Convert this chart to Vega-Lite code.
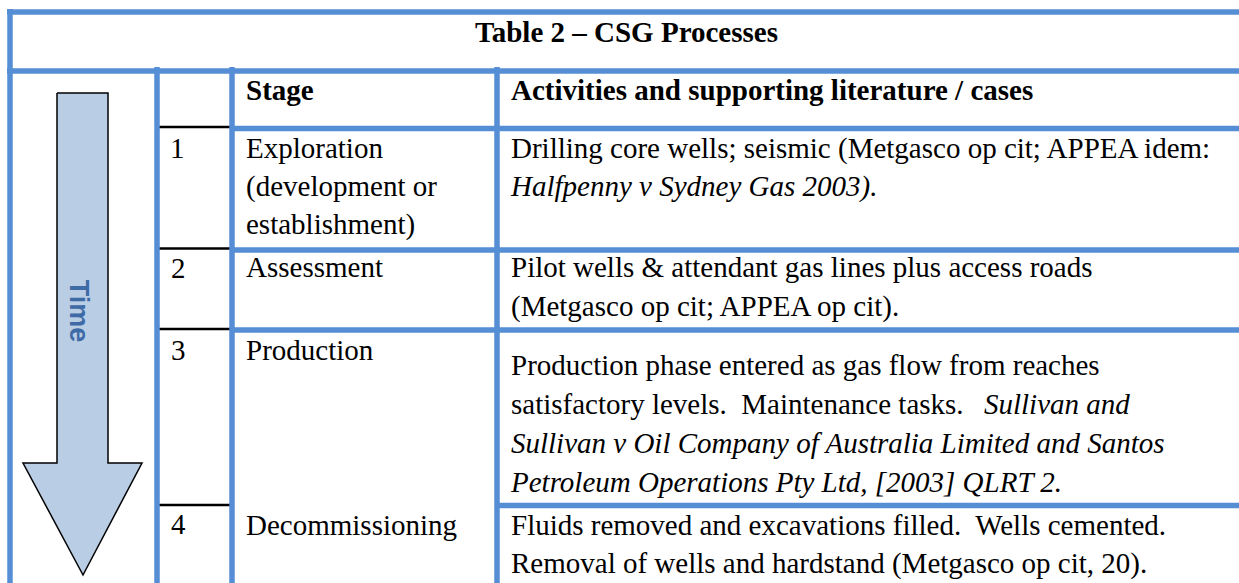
{
  "$schema": "https://vega.github.io/schema/vega-lite/v6.json",
  "width": 1239,
  "height": 583,
  "autosize": {"type": "none"},
  "padding": 0,
  "background": "white",
  "config": {"view": {"stroke": null}},
  "datasets": {
    "lines": [
      {"x": 7, "x2": 1239, "y": 12, "y2": 12, "kind": "blue"},
      {"x": 7, "x2": 1239, "y": 71, "y2": 71, "kind": "blue"},
      {"x": 232, "x2": 1239, "y": 128.5, "y2": 128.5, "kind": "blue"},
      {"x": 232, "x2": 1239, "y": 250, "y2": 250, "kind": "blue"},
      {"x": 232, "x2": 1239, "y": 330, "y2": 330, "kind": "blue"},
      {"x": 497, "x2": 1239, "y": 505.5, "y2": 505.5, "kind": "blue"},
      {"x": 10, "x2": 10, "y": 9, "y2": 583, "kind": "blue"},
      {"x": 157, "x2": 157, "y": 67, "y2": 583, "kind": "blue"},
      {"x": 232, "x2": 232, "y": 67, "y2": 583, "kind": "blue"},
      {"x": 497, "x2": 497, "y": 67, "y2": 583, "kind": "blue"},
      {"x": 159, "x2": 230, "y": 127, "y2": 127, "kind": "black"},
      {"x": 159, "x2": 230, "y": 248.5, "y2": 248.5, "kind": "black"},
      {"x": 159, "x2": 230, "y": 329, "y2": 329, "kind": "black"},
      {"x": 159, "x2": 230, "y": 505, "y2": 505, "kind": "black"}
    ],
    "arrow": [
      {"i": 0, "x": 57, "y": 93},
      {"i": 1, "x": 108, "y": 93},
      {"i": 2, "x": 108, "y": 463},
      {"i": 3, "x": 142, "y": 463},
      {"i": 4, "x": 83, "y": 575},
      {"i": 5, "x": 23, "y": 463},
      {"i": 6, "x": 57, "y": 463},
      {"i": 7, "x": 57, "y": 93}
    ],
    "texts": [
      {"x": 626.5, "y": 42, "text": "Table 2 – CSG Processes", "role": "title"},
      {"x": 246, "y": 100, "text": "Stage", "role": "header"},
      {"x": 511, "y": 100, "text": "Activities and supporting literature / cases", "role": "header"},
      {"x": 170, "y": 158, "text": "1", "role": "cell"},
      {"x": 171, "y": 278, "text": "2", "role": "cell"},
      {"x": 171, "y": 360, "text": "3", "role": "cell"},
      {"x": 171, "y": 534, "text": "4", "role": "cell"},
      {"x": 246, "y": 158, "text": "Exploration", "role": "cell"},
      {"x": 246, "y": 196, "text": "(development or", "role": "cell"},
      {"x": 246, "y": 234, "text": "establishment)", "role": "cell"},
      {"x": 246, "y": 277, "text": "Assessment", "role": "cell"},
      {"x": 246, "y": 360, "text": "Production", "role": "cell"},
      {"x": 246, "y": 535, "text": "Decommissioning", "role": "cell"},
      {"x": 511, "y": 158, "text": "Drilling core wells; seismic (Metgasco op cit; APPEA idem:", "role": "cell"},
      {"x": 511, "y": 196, "text": "Halfpenny v Sydney Gas 2003).", "role": "case"},
      {"x": 511, "y": 277, "text": "Pilot wells & attendant gas lines plus access roads", "role": "cell"},
      {"x": 511, "y": 316, "text": "(Metgasco op cit; APPEA op cit).", "role": "cell"},
      {"x": 511, "y": 375, "text": "Production phase entered as gas flow from reaches", "role": "cell"},
      {"x": 511, "y": 414, "text": "satisfactory levels.\u00a0 Maintenance tasks.", "role": "cell"},
      {"x": 984, "y": 414, "text": "Sullivan and", "role": "case"},
      {"x": 511, "y": 453, "text": "Sullivan v Oil Company of Australia Limited and Santos", "role": "case"},
      {"x": 511, "y": 492, "text": "Petroleum Operations Pty Ltd, [2003] QLRT 2.", "role": "case"},
      {"x": 511, "y": 535, "text": "Fluids removed and excavations filled.\u00a0 Wells cemented.", "role": "cell"},
      {"x": 511, "y": 573, "text": "Removal of wells and hardstand (Metgasco op cit, 20).", "role": "cell"},
      {"x": 78, "y": 311, "text": "Time", "role": "arrowlabel"}
    ]
  },
  "layer": [
    {
      "data": {"name": "arrow"},
      "mark": {"type": "line", "fill": "#B9CDE5", "stroke": "#000000", "strokeWidth": 1.5, "strokeJoin": "miter"},
      "encoding": {
        "x": {"field": "x", "type": "quantitative", "scale": {"domain": [0, 1239], "nice": false, "zero": false}, "axis": null},
        "y": {"field": "y", "type": "quantitative", "scale": {"domain": [0, 583], "nice": false, "zero": false, "reverse": true}, "axis": null},
        "order": {"field": "i", "type": "quantitative"}
      }
    },
    {
      "data": {"name": "lines"},
      "transform": [{"filter": "datum.kind === 'black'"}],
      "mark": {"type": "rule", "color": "#000000", "strokeWidth": 2.5},
      "encoding": {
        "x": {"field": "x", "type": "quantitative"},
        "x2": {"field": "x2"},
        "y": {"field": "y", "type": "quantitative"},
        "y2": {"field": "y2"}
      }
    },
    {
      "data": {"name": "lines"},
      "transform": [{"filter": "datum.kind === 'blue'"}],
      "mark": {"type": "rule", "color": "#558ED5", "strokeWidth": 5.5},
      "encoding": {
        "x": {"field": "x", "type": "quantitative"},
        "x2": {"field": "x2"},
        "y": {"field": "y", "type": "quantitative"},
        "y2": {"field": "y2"}
      }
    },
    {
      "data": {"name": "texts"},
      "transform": [{"filter": "datum.role === 'title'"}],
      "mark": {"type": "text", "font": "Liberation Serif", "fontSize": 29, "fontWeight": "bold", "align": "center", "baseline": "alphabetic", "color": "#000000"},
      "encoding": {
        "x": {"field": "x", "type": "quantitative"},
        "y": {"field": "y", "type": "quantitative"},
        "text": {"field": "text"}
      }
    },
    {
      "data": {"name": "texts"},
      "transform": [{"filter": "datum.role === 'header'"}],
      "mark": {"type": "text", "font": "Liberation Serif", "fontSize": 29, "fontWeight": "bold", "align": "left", "baseline": "alphabetic", "color": "#000000"},
      "encoding": {
        "x": {"field": "x", "type": "quantitative"},
        "y": {"field": "y", "type": "quantitative"},
        "text": {"field": "text"}
      }
    },
    {
      "data": {"name": "texts"},
      "transform": [{"filter": "datum.role === 'cell'"}],
      "mark": {"type": "text", "font": "Liberation Serif", "fontSize": 29, "align": "left", "baseline": "alphabetic", "color": "#000000"},
      "encoding": {
        "x": {"field": "x", "type": "quantitative"},
        "y": {"field": "y", "type": "quantitative"},
        "text": {"field": "text"}
      }
    },
    {
      "data": {"name": "texts"},
      "transform": [{"filter": "datum.role === 'case'"}],
      "mark": {"type": "text", "font": "Liberation Serif", "fontSize": 29, "fontStyle": "italic", "align": "left", "baseline": "alphabetic", "color": "#000000"},
      "encoding": {
        "x": {"field": "x", "type": "quantitative"},
        "y": {"field": "y", "type": "quantitative"},
        "text": {"field": "text"}
      }
    },
    {
      "data": {"name": "texts"},
      "transform": [{"filter": "datum.role === 'arrowlabel'"}],
      "mark": {"type": "text", "font": "Liberation Sans", "fontSize": 27, "fontWeight": "bold", "angle": 90, "align": "center", "baseline": "middle", "color": "#3E6AA6"},
      "encoding": {
        "x": {"field": "x", "type": "quantitative"},
        "y": {"field": "y", "type": "quantitative"},
        "text": {"field": "text"}
      }
    }
  ]
}
